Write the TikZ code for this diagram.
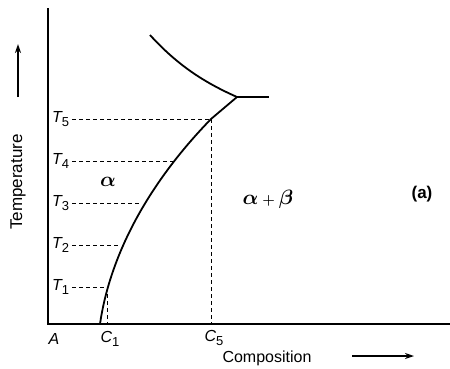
\documentclass[tikz,border=0pt]{standalone}
\usepackage{fontspec}
\setmainfont{Liberation Sans}
\usetikzlibrary{arrows.meta}
\begin{document}
\begin{tikzpicture}[x=1pt,y=-1pt,
  axis/.style={line width=1.4pt},
  phase/.style={line width=1.8pt},
  guide/.style={line width=0.8pt,dash pattern=on 4pt off 3pt},
  lbl/.style={inner sep=0pt,font=\fontsize{16}{19}\selectfont},
  greek/.style={inner sep=0pt,font=\fontsize{21}{24}\selectfont\boldmath},
  arr/.style={line width=1.8pt,-{Stealth[length=9pt,width=6pt]}}]
\useasboundingbox (0,0) rectangle (450,368);
% axes
\coordinate (top) at (48,8);
\coordinate (origin) at (48,324);
\coordinate (right) at (450,324);
\draw[axis] (top) -- (origin) -- (right);
% curve points
\coordinate (p0) at (100,324);
\coordinate (p1) at (107,287);
\coordinate (p2) at (119,245);
\coordinate (p3) at (140,203);
\coordinate (p4) at (173,161);
\coordinate (p5) at (211,119);
\coordinate (peak) at (237,97);
\coordinate (tail) at (269,97);
\coordinate (ustart) at (150,35);
\draw[phase] (p0) .. controls (109,262) and (142,190) .. (p5) -- (peak);
\draw[phase] (ustart) .. controls (180,68) and (208,84) .. (peak);
\draw[phase] (peak) -- (tail);
% temperature labels
\foreach \i/\y in {1/287,2/245,3/203,4/161,5/119}{
  \node[lbl,anchor=west] (T\i) at (52,\y) {\itshape T\raisebox{-0.45ex}{\fontsize{13}{15}\selectfont\upshape\i}};
}
\draw[guide] (T1.east) ++(3,0) -- (p1);
\draw[guide] (T2.east) ++(3,0) -- (p2);
\draw[guide] (T3.east) ++(3,0) -- (p3);
\draw[guide] (T4.east) ++(3,0) -- (p4);
\draw[guide] (T5.east) ++(3,0) -- (p5);
\coordinate (c1b) at (107,324);
\coordinate (c5b) at (211,324);
\draw[guide] (p1) -- (c1b);
\draw[guide] (p5) -- (c5b);
% axis labels
\node[lbl] (A) at (54,339) {\itshape A};
\node[lbl] (C1) at (110,339) {\itshape C\raisebox{-0.45ex}{\fontsize{13}{15}\selectfont\upshape 1}};
\node[lbl] (C5) at (214,338) {\itshape C\raisebox{-0.45ex}{\fontsize{13}{15}\selectfont\upshape 5}};
\node[lbl] (comp) at (267,358) {Composition};
\coordinate (ca) at (352,356);
\coordinate (cb) at (414,356);
\draw[arr] (ca) -- (cb);
\node[lbl,rotate=90,font=\fontsize{17}{20}\selectfont] (temp) at (18,182) {Temperature};
\coordinate (ta) at (18,97);
\coordinate (tb) at (18,44);
\draw[arr] (ta) -- (tb);
% phase labels
\node[greek] (alpha) at (108,182) {$\alpha$};
\node[greek] (ab) at (268,199) {$\alpha\,{\scriptstyle+}\,\beta$};
\node[lbl,font=\fontsize{17}{20}\selectfont\bfseries] (a) at (422,194) {(a)};
\end{tikzpicture}
\end{document}
